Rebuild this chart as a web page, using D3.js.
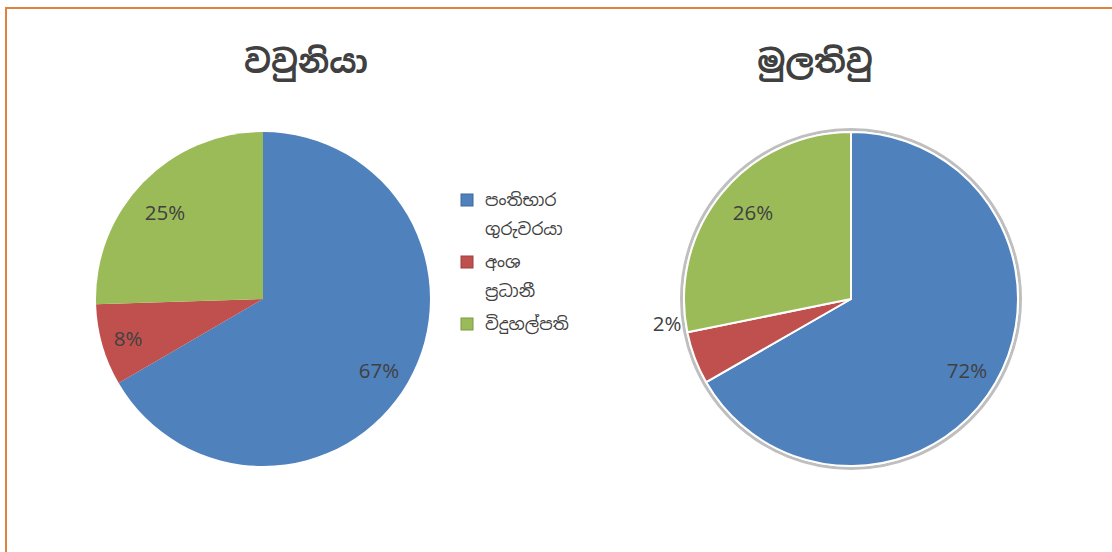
<!DOCTYPE html>
<html>
<head>
<meta charset="utf-8">
<script src="https://cdn.jsdelivr.net/npm/d3@7"></script>
<style>
  body { margin: 0; background: #fff; }
  svg { display: block; }
</style>
</head>
<body>
<div id="chart"></div>
<script>
// Categories (legend order)
const categories = ["පංතිභාර ගුරුවරයා", "අංශ ප්‍රධානී", "විදුහල්පති"];
const legendLines = [["පංතිභාර", "ගුරුවරයා"], ["අංශ", "ප්‍රධානී"], ["විදුහල්පති"]];
const colors = ["#4f81bd", "#c0504d", "#9bbb59"];

// Vavuniya (slice sizes as drawn, labels as printed)
const vavuniyaTitle = "වවුනියා";
const vavuniyaValues = [66.6, 7.9, 25.5];
const vavuniyaLabels = ["67%", "8%", "25%"];

// Mullaitivu (slice sizes as drawn, labels as printed)
const mullaitivuTitle = "මුලතිවු";
const mullaitivuValues = [66.7, 5.1, 28.2];
const mullaitivuLabels = ["72%", "2%", "26%"];

const width = 1112, height = 552;
const labelFont = "'Open Sans', 'Noto Sans', sans-serif";
const sinhalaFont = "'Noto Sans Sinhala', 'Iskoola Pota', 'Noto Sans', sans-serif";

const svg = d3.select("#chart").append("svg")
  .attr("width", width)
  .attr("height", height);

// orange frame (top and left edges visible)
svg.append("path")
  .attr("d", "M6,552 V8 H1112")
  .attr("fill", "none")
  .attr("stroke", "#e0823f")
  .attr("stroke-width", 2);

const pie = d3.pie().sort(null).value(d => d);
const radius = 167;
const arc = d3.arc().innerRadius(0).outerRadius(radius);

function drawPie(cx, cy, titleX, title, values, labels, labelPos, framed) {
  const g = svg.append("g").attr("transform", `translate(${cx},${cy})`);

  if (framed) {
    g.append("circle")
      .attr("r", radius + 2.5)
      .attr("fill", "#fff")
      .attr("stroke", "#bfbfbf")
      .attr("stroke-width", 3);
  }

  g.selectAll("path.slice")
    .data(pie(values))
    .join("path")
    .attr("class", "slice")
    .attr("d", arc)
    .attr("fill", (d, i) => colors[i])
    .attr("stroke", framed ? "#fff" : "none")
    .attr("stroke-width", framed ? 2 : 0);

  // data labels
  g.selectAll("text.lbl")
    .data(pie(values))
    .join("text")
    .attr("class", "lbl")
    .attr("x", (d, i) => labelPos[i][0])
    .attr("y", (d, i) => labelPos[i][1])
    .attr("text-anchor", "middle")
    .attr("dominant-baseline", "central")
    .attr("font-family", labelFont)
    .attr("font-size", 20.5)
    .attr("fill", "#404040")
    .text((d, i) => labels[i]);

  svg.append("text")
    .attr("x", titleX)
    .attr("y", 61)
    .attr("text-anchor", "middle")
    .attr("dominant-baseline", "central")
    .attr("font-family", sinhalaFont)
    .attr("font-weight", "bold")
    .attr("font-size", 32)
    .attr("fill", "#404040")
    .text(title);
}

// label offsets relative to each pie centre
drawPie(263, 299, 306, vavuniyaTitle, vavuniyaValues, vavuniyaLabels,
  [[116, 71], [-135, 39], [-98, -87]], false);
drawPie(851, 299, 815, mullaitivuTitle, mullaitivuValues, mullaitivuLabels,
  [[116, 71], [-184, 24], [-98, -87]], true);

// legend
const legend = svg.append("g").attr("transform", "translate(461,194)");
const item = legend.selectAll("g")
  .data(categories)
  .join("g")
  .attr("transform", (d, i) => `translate(0,${i * 62})`);

item.append("rect")
  .attr("width", 12)
  .attr("height", 12)
  .attr("fill", (d, i) => colors[i])
  .attr("stroke", (d, i) => d3.color(colors[i]).darker(0.6))
  .attr("stroke-width", 1);

item.each(function (d, i) {
  d3.select(this).selectAll("text")
    .data(legendLines[i])
    .join("text")
    .attr("x", 24)
    .attr("y", (t, j) => 6 + j * 29)
    .attr("dominant-baseline", "central")
    .attr("font-family", sinhalaFont)
    .attr("font-size", 17)
    .attr("fill", "#404040")
    .text(t => t);
});
</script>
</body>
</html>
